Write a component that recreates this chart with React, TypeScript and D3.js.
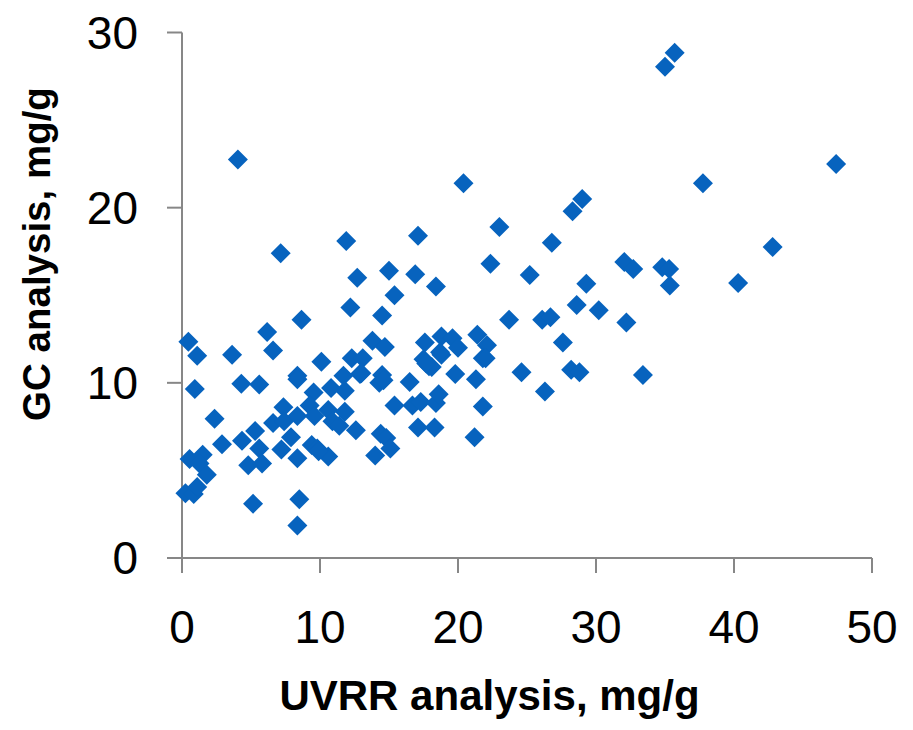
import React from "react";
import * as d3 from "d3";

const uvrr: number[] = [
  35.7, 35.0, 47.4, 4.05, 20.4, 37.75, 29.0, 28.3, 23.0, 17.1, 11.9, 26.8, 42.8, 7.15,
  22.35, 32.05, 32.7, 34.8, 35.3, 15.0, 16.9, 25.2, 12.7, 18.4, 29.3, 35.35, 40.3, 15.4,
  14.5, 12.2, 30.2, 28.6, 8.66, 23.7, 26.1, 26.7, 32.2, 6.17, 0.46, 1.1, 3.63, 6.6,
  13.8, 14.7, 17.6, 18.8, 19.6, 20.0, 18.8, 17.5, 17.9, 21.4, 22.1, 21.8, 27.6, 12.3,
  13.1, 10.1, 0.93, 4.3, 5.6, 8.36, 8.36, 12.9, 11.7, 14.5, 14.3, 16.5, 19.8, 21.3,
  24.6, 28.2, 28.8, 33.4, 26.3, 9.54, 11.8, 10.8, 21.8, 15.4, 16.7, 17.3, 18.4, 18.6,
  7.35, 6.6, 7.4, 2.36, 8.36, 9.25, 9.6, 10.6, 11.8, 10.9, 11.4, 12.6, 17.1, 18.3,
  21.2, 5.3, 4.35, 2.9, 7.9, 7.2, 5.6, 9.4, 9.8, 10.6, 9.9, 14.4, 14.8, 15.1,
  14.0, 0.55, 1.5, 1.27, 1.8, 4.8, 5.8, 8.36, 0.25, 0.85, 1.1, 5.15, 8.5, 8.36,
  18.1, 17.7, 13.0, 14.6, 22.0, 18.7,
];

const gc: number[] = [
  28.85, 28.05, 22.5, 22.75, 21.4, 21.4, 20.5, 19.8, 18.9, 18.4, 18.1, 18.0, 17.75, 17.4,
  16.8, 16.9, 16.5, 16.6, 16.5, 16.4, 16.2, 16.15, 16.0, 15.5, 15.65, 15.55, 15.7, 15.0,
  13.85, 14.3, 14.15, 14.45, 13.6, 13.6, 13.6, 13.75, 13.45, 12.9, 12.35, 11.55, 11.6, 11.85,
  12.4, 12.05, 12.3, 12.65, 12.55, 12.0, 11.6, 11.35, 10.95, 12.75, 12.15, 11.4, 12.3, 11.4,
  11.4, 11.2, 9.65, 9.95, 9.9, 10.4, 10.2, 10.5, 10.4, 10.45, 10.0, 10.05, 10.5, 10.2,
  10.6, 10.75, 10.6, 10.45, 9.5, 9.45, 9.55, 9.7, 8.65, 8.7, 8.7, 8.9, 8.85, 9.35,
  8.6, 7.7, 7.8, 7.95, 8.1, 8.7, 8.1, 8.45, 8.35, 7.8, 7.55, 7.3, 7.45, 7.45,
  6.9, 7.25, 6.7, 6.5, 6.9, 6.2, 6.25, 6.45, 6.25, 5.8, 6.1, 7.1, 6.85, 6.25,
  5.85, 5.65, 5.9, 5.4, 4.75, 5.3, 5.4, 5.7, 3.7, 3.65, 4.05, 3.1, 3.35, 1.85,
  10.9, 11.1, 10.55, 10.15, 11.4, 11.75,
];

const xTicks: number[] = [0, 10, 20, 30, 40, 50];
const yTicks: number[] = [0, 10, 20, 30];

const xTitle = "UVRR analysis, mg/g";
const yTitle = "GC analysis, mg/g";

export default function App() {
  const W = 913;
  const H = 730;
  const x = d3.scaleLinear().domain([0, 50]).range([182, 872]);
  const y = d3.scaleLinear().domain([0, 30]).range([558, 32.5]);
  const axisColor = "#878787";
  const markerColor = "#0763BE";
  const font = "'Liberation Sans', Arial, sans-serif";
  const r = 10;
  const diamond = `M0,${-r}L${r},0L0,${r}L${-r},0Z`;

  return (
    <svg
      width={W}
      height={H}
      style={{ position: "absolute", left: 0, top: 0, background: "#fff" }}
    >
      <rect width={W} height={H} fill="#fff" />
      <line x1={x(0)} x2={x(0)} y1={y(30)} y2={y(0)} stroke={axisColor} strokeWidth={2} />
      <line x1={x(0)} x2={x(50)} y1={y(0)} y2={y(0)} stroke={axisColor} strokeWidth={2} />
      {yTicks.map((t) => (
        <g key={"y" + t}>
          <line x1={x(0) - 15} x2={x(0)} y1={y(t)} y2={y(t)} stroke={axisColor} strokeWidth={2} />
          <text
            x={138}
            y={y(t)}
            textAnchor="end"
            dominantBaseline="central"
            fontFamily={font}
            fontSize={46}
            fill="#000"
          >
            {t}
          </text>
        </g>
      ))}
      {xTicks.map((t) => (
        <g key={"x" + t}>
          <line x1={x(t)} x2={x(t)} y1={y(0)} y2={y(0) + 15} stroke={axisColor} strokeWidth={2} />
          <text
            x={x(t)}
            y={627}
            textAnchor="middle"
            dominantBaseline="central"
            fontFamily={font}
            fontSize={46}
            fill="#000"
          >
            {t}
          </text>
        </g>
      ))}
      {uvrr.map((v, i) => (
        <path
          key={i}
          d={diamond}
          transform={`translate(${x(v)},${y(gc[i])})`}
          fill={markerColor}
        />
      ))}
      <text
        x={489.5}
        y={710}
        textAnchor="middle"
        fontFamily={font}
        fontWeight="bold"
        fontSize={42}
        fill="#000"
      >
        {xTitle}
      </text>
      <text
        transform={`translate(50,254) rotate(-90)`}
        textAnchor="middle"
        fontFamily={font}
        fontWeight="bold"
        fontSize={38.5}
        fill="#000"
      >
        {yTitle}
      </text>
    </svg>
  );
}
